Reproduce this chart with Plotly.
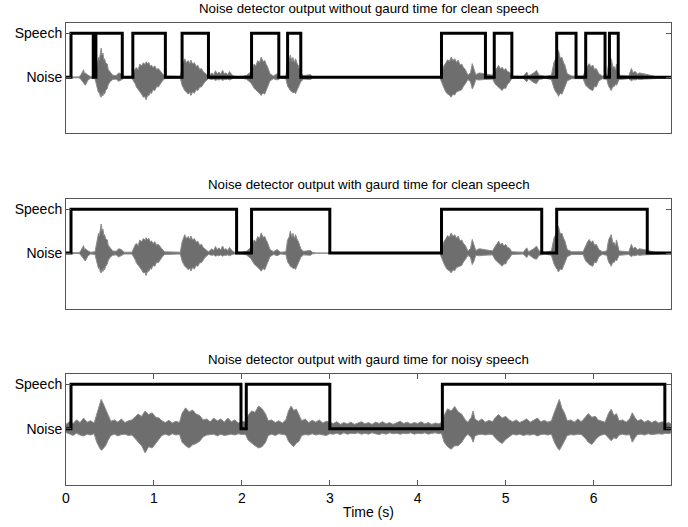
import plotly.graph_objects as go

# ---------------- data ----------------
titles = [
    "Noise detector output without gaurd time for clean speech",
    "Noise detector output with gaurd time for clean speech",
    "Noise detector output with gaurd time for noisy speech",
]
ytick_vals = [0, 1]
ytick_text = ["Noise", "Speech"]
xtick_vals = [0, 1, 2, 3, 4, 5, 6]
xtick_text = ["0", "1", "2", "3", "4", "5", "6"]
x_label = "Time (s)"

# detector output (0 = Noise, 1 = Speech), step after each time
step1_t = [0, 0.057, 0.31, 0.34, 0.64, 0.76, 1.13, 1.32, 1.62, 2.11, 2.42, 2.52, 2.67,
           4.27, 4.77, 4.87, 5.07, 5.58, 5.80, 5.91, 6.13, 6.18, 6.28, 6.88]
step1_v = [0, 1, 0, 1, 0, 1, 0, 1, 0, 1, 0, 1, 0, 1, 0, 1, 0, 1, 0, 1, 0, 1, 0, 0]
step2_t = [0, 0.057, 1.94, 2.11, 3.0, 4.27, 5.41, 5.58, 6.61, 6.88]
step2_v = [0, 1, 0, 1, 0, 1, 0, 1, 0, 0]
step3_t = [0, 0.057, 1.99, 2.05, 3.0, 4.28, 6.81, 6.88]
step3_v = [0, 1, 0, 1, 0, 1, 0, 0]

# clean speech waveform envelope (time, upper, lower)
clean_t = [0.00, 0.15, 0.17, 0.19, 0.20, 0.21, 0.22, 0.25, 0.28, 0.33, 0.35, 0.36, 0.37, 0.38, 0.39, 0.40,
           0.41, 0.42, 0.43, 0.44, 0.45, 0.47, 0.48, 0.50,
           0.53, 0.57, 0.60, 0.63, 0.66, 0.75, 0.77, 0.79, 0.80, 0.82, 0.84, 0.86, 0.88, 0.90, 0.91, 0.93,
           0.94, 0.96, 0.97, 0.99, 1.01, 1.03, 1.05, 1.07,
           1.09, 1.12, 1.30, 1.32, 1.34, 1.35, 1.37, 1.39, 1.41, 1.42, 1.44, 1.46, 1.48, 1.50, 1.52, 1.54,
           1.56, 1.58, 1.62, 1.66, 1.68, 1.70, 1.72, 1.74,
           1.76, 1.78, 1.80, 1.82, 1.84, 1.86, 1.89, 1.92, 2.00, 2.05, 2.10, 2.12, 2.14, 2.16, 2.18, 2.20,
           2.22, 2.24, 2.26, 2.28, 2.29, 2.32, 2.36,
           2.40, 2.44, 2.50, 2.52, 2.54, 2.55, 2.57, 2.58, 2.60, 2.61, 2.63, 2.64, 2.67, 2.70, 2.78, 2.80,
           2.85, 4.25, 4.27,
           4.30, 4.32, 4.34, 4.36, 4.38, 4.40, 4.42, 4.44, 4.46, 4.48, 4.50, 4.52, 4.54, 4.57, 4.60, 4.62,
           4.64, 4.66, 4.70, 4.75, 4.80,
           4.85, 4.88, 4.90, 4.92, 4.94, 4.96, 4.98, 5.00, 5.02, 5.04, 5.07, 5.20, 5.24, 5.26, 5.32, 5.35,
           5.38, 5.45, 5.52,
           5.55, 5.57, 5.59, 5.60, 5.62, 5.64, 5.66, 5.67, 5.70, 5.75, 5.88, 5.91, 5.93, 5.95, 5.97, 5.99,
           6.01, 6.03, 6.06, 6.10, 6.15, 6.17,
           6.19, 6.20, 6.22, 6.23, 6.25, 6.26, 6.29, 6.40, 6.43, 6.45, 6.47, 6.50, 6.52, 6.58, 6.64, 6.70, 6.88]
clean_hi = [0.01, 0.01, 0.06, 0.12, 0.17, 0.08, 0.10, 0.05, 0.02, 0.03, 0.25, 0.34, 0.45, 0.40, 0.58, 0.66,
            0.50, 0.55, 0.40, 0.42, 0.33, 0.30, 0.18, 0.12,
            0.05, 0.04, 0.10, 0.08, 0.02, 0.02, 0.12, 0.20, 0.22, 0.17, 0.30, 0.26, 0.33, 0.29, 0.35, 0.30,
            0.34, 0.25, 0.28, 0.22, 0.26, 0.18, 0.20, 0.14,
            0.10, 0.03, 0.02, 0.25, 0.36, 0.42, 0.33, 0.38, 0.31, 0.39, 0.30, 0.33, 0.25, 0.27, 0.18, 0.20,
            0.13, 0.10, 0.03, 0.10, 0.06, 0.15, 0.08, 0.12,
            0.07, 0.16, 0.08, 0.10, 0.06, 0.13, 0.05, 0.02, 0.02, 0.04, 0.12, 0.20, 0.30, 0.26, 0.38, 0.33,
            0.46, 0.36, 0.38, 0.28, 0.25, 0.08, 0.03,
            0.08, 0.02, 0.03, 0.30, 0.38, 0.50, 0.36, 0.45, 0.33, 0.42, 0.30, 0.28, 0.10, 0.04, 0.06, 0.02,
            0.00, 0.00, 0.10,
            0.27, 0.33, 0.40, 0.36, 0.46, 0.38, 0.42, 0.34, 0.39, 0.28, 0.30, 0.22, 0.18, 0.05, 0.10, 0.31,
            0.20, 0.06, 0.10, 0.08, 0.06,
            0.05, 0.15, 0.22, 0.27, 0.19, 0.23, 0.16, 0.20, 0.13, 0.12, 0.03, 0.02, 0.12, 0.03, 0.10, 0.16,
            0.05, 0.02, 0.05,
            0.35, 0.42, 0.52, 0.61, 0.44, 0.45, 0.32, 0.30, 0.08, 0.03, 0.03, 0.18, 0.25, 0.31, 0.24, 0.28,
            0.18, 0.20, 0.08, 0.03, 0.05, 0.30,
            0.36, 0.42, 0.22, 0.25, 0.17, 0.30, 0.05, 0.03, 0.20, 0.10, 0.14, 0.07, 0.10, 0.08, 0.05, 0.02, 0.01]
clean_lo = [-0.01, -0.01, -0.05, -0.08, -0.12, -0.15, -0.18, -0.06, -0.02, -0.03, -0.20, -0.28, -0.35, -0.33, -0.43, -0.45,
            -0.38, -0.42, -0.34, -0.38, -0.30, -0.25, -0.17, -0.10,
            -0.05, -0.04, -0.09, -0.06, -0.02, -0.02, -0.10, -0.16, -0.22, -0.26, -0.33, -0.38, -0.45, -0.44, -0.51, -0.40,
            -0.42, -0.34, -0.37, -0.28, -0.30, -0.21, -0.22, -0.15,
            -0.10, -0.03, -0.02, -0.18, -0.26, -0.30, -0.33, -0.38, -0.34, -0.41, -0.33, -0.36, -0.28, -0.30, -0.22, -0.22,
            -0.15, -0.10, -0.03, -0.05, -0.04, -0.07, -0.05, -0.06,
            -0.04, -0.07, -0.05, -0.05, -0.04, -0.06, -0.03, -0.02, -0.02, -0.04, -0.12, -0.18, -0.25, -0.29, -0.32, -0.36,
            -0.41, -0.35, -0.38, -0.30, -0.25, -0.08, -0.03,
            -0.06, -0.02, -0.03, -0.20, -0.26, -0.30, -0.32, -0.35, -0.34, -0.37, -0.28, -0.25, -0.10, -0.04, -0.05, -0.02,
            0.00, 0.00, -0.12,
            -0.25, -0.33, -0.38, -0.40, -0.45, -0.38, -0.40, -0.33, -0.32, -0.30, -0.28, -0.20, -0.15, -0.05, -0.10, -0.26,
            -0.18, -0.05, -0.06, -0.05, -0.04,
            -0.04, -0.15, -0.18, -0.22, -0.26, -0.30, -0.24, -0.25, -0.16, -0.12, -0.03, -0.02, -0.10, -0.03, -0.12, -0.14,
            -0.05, -0.02, -0.05,
            -0.25, -0.33, -0.38, -0.43, -0.36, -0.38, -0.27, -0.25, -0.08, -0.03, -0.03, -0.18, -0.22, -0.26, -0.28, -0.30,
            -0.20, -0.22, -0.08, -0.03, -0.05, -0.20,
            -0.26, -0.30, -0.20, -0.22, -0.15, -0.18, -0.05, -0.03, -0.08, -0.05, -0.06, -0.04, -0.05, -0.04, -0.03, -0.02, -0.01]

# noisy speech waveform envelope (time, upper, lower)
noisy_t = [0.00, 0.04, 0.08, 0.12, 0.16, 0.20, 0.24, 0.28, 0.32, 0.35, 0.38, 0.40, 0.42, 0.45, 0.48,
           0.51, 0.55, 0.59, 0.63, 0.67, 0.71, 0.75, 0.78, 0.82, 0.86, 0.90, 0.94, 0.98, 1.02, 1.06,
           1.09, 1.13, 1.17, 1.21, 1.25, 1.29, 1.32, 1.36, 1.40, 1.44, 1.48, 1.52, 1.56, 1.60, 1.64,
           1.68, 1.72, 1.76, 1.80, 1.84, 1.88, 1.92, 1.96, 2.00, 2.04, 2.07, 2.11, 2.15, 2.19, 2.23,
           2.27, 2.30, 2.34, 2.38, 2.42, 2.46, 2.50, 2.53, 2.56, 2.59, 2.62, 2.65, 2.68, 2.72, 2.76,
           2.80, 2.84, 2.88, 2.92, 2.96, 3.00, 3.04, 3.08, 3.12, 3.16, 3.20, 3.24, 3.28, 3.32, 3.36,
           3.40, 3.44, 3.48, 3.52, 3.56, 3.60, 3.64, 3.68, 3.72, 3.76, 3.80, 3.84, 3.88, 3.92, 3.96,
           4.00, 4.04, 4.08, 4.12, 4.16, 4.20, 4.24, 4.27, 4.30, 4.34, 4.38, 4.42, 4.46, 4.50, 4.54,
           4.57, 4.61, 4.63, 4.65, 4.69, 4.73, 4.77, 4.81, 4.85, 4.88, 4.92, 4.96, 5.00, 5.04, 5.08,
           5.12, 5.16, 5.20, 5.24, 5.28, 5.32, 5.36, 5.40, 5.44, 5.48, 5.52, 5.55, 5.58, 5.61, 5.64,
           5.67, 5.70, 5.74, 5.78, 5.82, 5.86, 5.90, 5.94, 5.98, 6.02, 6.05, 6.09, 6.13, 6.17, 6.20,
           6.23, 6.26, 6.29, 6.33, 6.37, 6.41, 6.44, 6.47, 6.50, 6.54, 6.58, 6.62, 6.66, 6.70, 6.74,
           6.78, 6.82, 6.86, 6.88]
noisy_hi = [0.10, 0.16, 0.12, 0.20, 0.14, 0.24, 0.15, 0.18, 0.13, 0.35, 0.55, 0.66, 0.58, 0.45, 0.30,
            0.17, 0.20, 0.15, 0.22, 0.14, 0.18, 0.20, 0.26, 0.33, 0.28, 0.40, 0.32, 0.36, 0.26, 0.24,
            0.18, 0.14, 0.19, 0.13, 0.17, 0.14, 0.35, 0.47, 0.38, 0.42, 0.33, 0.30, 0.20, 0.22, 0.16,
            0.24, 0.18, 0.22, 0.15, 0.24, 0.16, 0.20, 0.13, 0.17, 0.15, 0.30, 0.40, 0.37, 0.51, 0.45,
            0.33, 0.18, 0.20, 0.14, 0.18, 0.13, 0.20, 0.40, 0.51, 0.41, 0.44, 0.30, 0.18, 0.22, 0.14,
            0.19, 0.15, 0.20, 0.13, 0.17, 0.14, 0.12, 0.16, 0.10, 0.14, 0.11, 0.15, 0.10, 0.13, 0.16,
            0.11, 0.14, 0.10, 0.15, 0.12, 0.16, 0.11, 0.14, 0.10, 0.13, 0.17, 0.12, 0.15, 0.11, 0.14,
            0.12, 0.16, 0.11, 0.14, 0.10, 0.13, 0.11, 0.14, 0.30, 0.45, 0.40, 0.50, 0.38, 0.33, 0.20,
            0.15, 0.26, 0.40, 0.22, 0.17, 0.22, 0.15, 0.19, 0.16, 0.25, 0.32, 0.24, 0.28, 0.20, 0.16,
            0.20, 0.14, 0.18, 0.22, 0.15, 0.20, 0.24, 0.16, 0.19, 0.15, 0.18, 0.35, 0.50, 0.66, 0.46,
            0.35, 0.18, 0.20, 0.15, 0.22, 0.16, 0.24, 0.34, 0.26, 0.28, 0.20, 0.18, 0.15, 0.35, 0.44,
            0.30, 0.34, 0.18, 0.20, 0.15, 0.22, 0.36, 0.25, 0.18, 0.21, 0.15, 0.19, 0.14, 0.18, 0.13,
            0.16, 0.12, 0.14, 0.10]
noisy_lo = [-0.08, -0.12, -0.15, -0.10, -0.14, -0.16, -0.12, -0.14, -0.11, -0.30, -0.42, -0.48, -0.45, -0.38, -0.25,
            -0.15, -0.12, -0.16, -0.13, -0.12, -0.15, -0.14, -0.22, -0.30, -0.38, -0.54, -0.40, -0.43, -0.32, -0.22,
            -0.15, -0.12, -0.15, -0.11, -0.14, -0.12, -0.30, -0.38, -0.43, -0.36, -0.33, -0.28, -0.18, -0.14, -0.13,
            -0.12, -0.16, -0.12, -0.15, -0.13, -0.12, -0.14, -0.11, -0.13, -0.12, -0.25, -0.32, -0.38, -0.43, -0.40,
            -0.30, -0.15, -0.12, -0.15, -0.11, -0.13, -0.14, -0.28, -0.35, -0.40, -0.32, -0.28, -0.15, -0.13, -0.14,
            -0.11, -0.14, -0.12, -0.13, -0.15, -0.11, -0.12, -0.10, -0.13, -0.09, -0.12, -0.10, -0.11, -0.09, -0.12,
            -0.10, -0.12, -0.09, -0.11, -0.13, -0.10, -0.12, -0.09, -0.11, -0.10, -0.12, -0.10, -0.11, -0.09, -0.12,
            -0.10, -0.11, -0.09, -0.12, -0.10, -0.09, -0.11, -0.10, -0.30, -0.40, -0.46, -0.38, -0.38, -0.30, -0.18,
            -0.12, -0.20, -0.30, -0.16, -0.13, -0.12, -0.14, -0.12, -0.13, -0.20, -0.28, -0.33, -0.24, -0.18, -0.12,
            -0.14, -0.12, -0.15, -0.13, -0.14, -0.12, -0.16, -0.13, -0.12, -0.14, -0.12, -0.28, -0.40, -0.48, -0.38,
            -0.28, -0.15, -0.13, -0.14, -0.12, -0.13, -0.20, -0.30, -0.35, -0.25, -0.18, -0.14, -0.12, -0.20, -0.27,
            -0.20, -0.22, -0.14, -0.12, -0.14, -0.13, -0.30, -0.20, -0.13, -0.12, -0.14, -0.11, -0.13, -0.12, -0.11,
            -0.12, -0.10, -0.11, -0.09]

# ---------------- figure ----------------
wave_color = "#6e6e6e"
frame_color = "#555555"
font_family = "Liberation Sans, Arial, sans-serif"

panels = [
    (clean_t, clean_hi, clean_lo, step1_t, step1_v),
    (clean_t, clean_hi, clean_lo, step2_t, step2_v),
    (noisy_t, noisy_hi, noisy_lo, step3_t, step3_v),
]
domains = [[0.7619, 1.0], [0.382, 0.619], [0.0, 0.2403]]

fig = go.Figure()
layout = dict(
    width=688, height=527,
    margin=dict(l=66, r=17, t=23, b=42),
    paper_bgcolor="white", plot_bgcolor="white",
    showlegend=False,
    font=dict(family=font_family, size=14, color="black"),
)
annotations = []
for i, (wt, whi, wlo, st, sv) in enumerate(panels):
    n = "" if i == 0 else str(i + 1)
    xa, ya = "x" + n, "y" + n
    poly_x = list(wt) + list(wt)[::-1]
    poly_y = list(whi) + list(wlo)[::-1]
    fig.add_trace(go.Scatter(x=poly_x, y=poly_y, mode="lines", fill="toself",
                             fillcolor=wave_color, line=dict(color="#8c8c8c", width=1),
                             hoverinfo="skip", xaxis=xa, yaxis=ya))
    fig.add_trace(go.Scatter(x=st, y=sv, mode="lines", line=dict(color="black", width=3, shape="hv"),
                             xaxis=xa, yaxis=ya))
    bottom = (i == 2)
    layout["xaxis" + n] = dict(
        domain=[0, 1], anchor=ya, range=[0, 6.88], automargin=False,
        tickvals=xtick_vals, ticktext=xtick_text,
        showticklabels=bottom, ticks="inside" if bottom else "", ticklen=5, tickcolor=frame_color,
        showgrid=False, zeroline=False, showline=True, linecolor=frame_color, linewidth=1,
        mirror="ticks" if bottom else True,
        tickfont=dict(size=14),
        title=dict(text=x_label, font=dict(size=14), standoff=2) if bottom else None,
    )
    layout["yaxis" + n] = dict(
        domain=domains[i], anchor=xa, range=[-1.26, 1.23], automargin=False,
        tickvals=ytick_vals, ticktext=ytick_text,
        ticks="inside", ticklen=5, tickcolor=frame_color,
        showgrid=False, zeroline=False, showline=True, linecolor=frame_color, linewidth=1,
        mirror="ticks", tickfont=dict(size=14),
    )
    annotations.append(dict(text=titles[i], xref="paper", yref="paper", x=0.5, y=domains[i][1],
                            xanchor="center", yanchor="bottom", yshift=5, showarrow=False,
                            font=dict(size=13.3)))
layout["annotations"] = annotations
fig.update_layout(**layout)
# remove the browser's default page margin so the figure fills the window exactly
fig.write_html("out.html", config={"displayModeBar": False},
               post_script="document.body.style.margin='0px';")
